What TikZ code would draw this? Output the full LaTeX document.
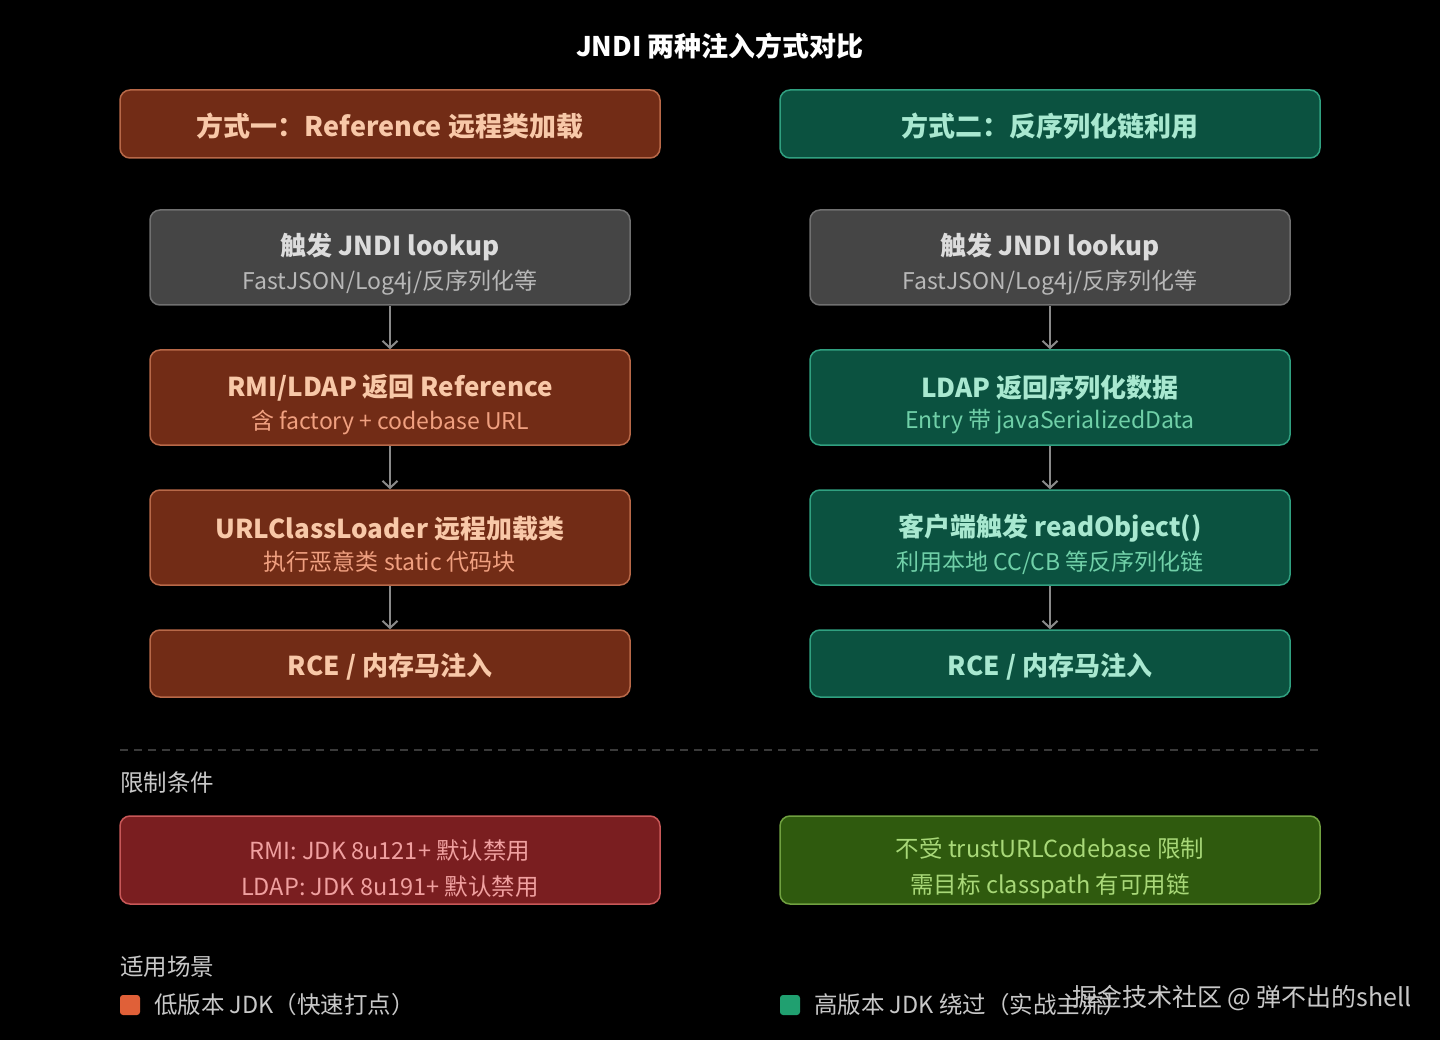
\documentclass[tikz,border=0pt]{standalone}
\usepackage{fontspec}
\setmainfont{Noto Sans CJK SC}
\usepackage{xcolor}
\usepackage{tikz}
\usetikzlibrary{arrows.meta,positioning}
\definecolor{bgBlack}{RGB}{0,0,0}
\definecolor{refFill}{RGB}{114,44,22}
\definecolor{refLine}{RGB}{184,104,72}
\definecolor{refText}{RGB}{248,200,168}
\definecolor{refSub}{RGB}{240,160,128}
\definecolor{serFill}{RGB}{11,82,64}
\definecolor{serLine}{RGB}{48,160,128}
\definecolor{serText}{RGB}{168,232,208}
\definecolor{serSub}{RGB}{112,208,168}
\definecolor{trgFill}{RGB}{69,69,69}
\definecolor{trgLine}{RGB}{112,112,112}
\definecolor{trgText}{RGB}{220,220,220}
\definecolor{trgSub}{RGB}{184,184,184}
\definecolor{limFill}{RGB}{122,30,32}
\definecolor{limLine}{RGB}{200,88,88}
\definecolor{limText}{RGB}{240,160,160}
\definecolor{okFill}{RGB}{47,90,14}
\definecolor{okLine}{RGB}{112,160,64}
\definecolor{okText}{RGB}{168,216,120}
\definecolor{labelGray}{RGB}{200,200,200}
\definecolor{arrowGray}{RGB}{138,138,138}
\definecolor{sepGray}{RGB}{58,58,58}
\definecolor{markOrange}{RGB}{224,96,56}
\definecolor{markGreen}{RGB}{32,160,112}

\newcommand{\boxtwo}[2]{{\fontsize{26}{30}\selectfont\bfseries\rule{0pt}{36pt}#1}\\[8pt]{\fontsize{23}{27}\selectfont #2}}

\begin{document}
\begin{tikzpicture}[x=1pt, y=-1pt,
  card/.style={rounded corners=10pt, line width=1.5pt, minimum width=480pt, minimum height=95pt, align=center, inner sep=0pt},
  headcard/.style={card, minimum width=540pt, minimum height=68pt, font=\fontsize{27}{30}\selectfont\bfseries},
  trigger/.style={card, fill=trgFill, draw=trgLine, text=trgText},
  refstep/.style={card, fill=refFill, draw=refLine, text=refText},
  serstep/.style={card, fill=serFill, draw=serLine, text=serText},
  notecard/.style={card, minimum width=540pt, minimum height=88pt, font=\fontsize{23.5}{36}\selectfont},
  flowarrow/.style={arrowGray, line width=2pt, -{Straight Barb[length=7pt,width=15pt]}},
  section/.style={anchor=west, text=labelGray, font=\fontsize{23.5}{27}\selectfont, inner sep=0pt}
]
\fill[bgBlack] (0,0) rectangle (1440,1040);
\useasboundingbox (0,0) rectangle (1440,1040);

% title
\node[text=white, font=\fontsize{27}{30}\selectfont\bfseries] (title) at (720,46) {JNDI 两种注入方式对比};

% method headers
\node[headcard, fill=refFill, draw=refLine, text=refText] (refhead) at (390,124) {\rule{0pt}{28pt}方式一：Reference 远程类加载};
\node[headcard, fill=serFill, draw=serLine, text=serText] (serhead) at (1050,124) {\rule{0pt}{28pt}方式二：反序列化链利用};

% left chain
\node[trigger] (ref1) at (390,257.5) {\boxtwo{触发 JNDI lookup}{\color{trgSub}FastJSON/Log4j/反序列化等}};
\node[refstep] (ref2) at (390,397.5) {\boxtwo{RMI/LDAP 返回 Reference}{\color{refSub}含 factory + codebase URL}};
\node[refstep] (ref3) at (390,537.5) {\boxtwo{URLClassLoader 远程加载类}{\color{refSub}执行恶意类 static 代码块}};
\node[refstep, minimum height=67pt, font=\fontsize{26}{30}\selectfont\bfseries] (ref4) at (390,663.5) {\rule{0pt}{28pt}RCE / 内存马注入};

% right chain
\node[trigger] (ser1) at (1050,257.5) {\boxtwo{触发 JNDI lookup}{\color{trgSub}FastJSON/Log4j/反序列化等}};
\node[serstep] (ser2) at (1050,397.5) {\boxtwo{LDAP 返回序列化数据}{\color{serSub}Entry 带 javaSerializedData}};
\node[serstep] (ser3) at (1050,537.5) {\boxtwo{客户端触发 readObject()}{\color{serSub}利用本地 CC/CB 等反序列化链}};
\node[serstep, minimum height=67pt, font=\fontsize{26}{30}\selectfont\bfseries] (ser4) at (1050,663.5) {\rule{0pt}{28pt}RCE / 内存马注入};

\foreach \a/\b in {ref1/ref2,ref2/ref3,ref3/ref4,ser1/ser2,ser2/ser3,ser3/ser4}
{
\draw[flowarrow] (\a) -- (\b);
}

% separator
\coordinate (sepL) at (120,750);
\coordinate (sepR) at (1320,750);
\draw[sepGray, line width=1.5pt, dash pattern=on 8pt off 6pt] (sepL) -- (sepR);

% limits
\node[section] (limits) at (120,783) {限制条件};
\node[notecard, fill=limFill, draw=limLine, text=limText] (limref) at (390,860) {\rule{0pt}{36pt}RMI: JDK 8u121+ 默认禁用\\LDAP: JDK 8u191+ 默认禁用};
\node[notecard, fill=okFill, draw=okLine, text=okText] (limser) at (1050,860) {\rule{0pt}{36pt}不受 trustURLCodebase 限制\\需目标 classpath 有可用链};

% usage
\node[section] (usage) at (120,967) {适用场景};
\fill[markOrange, rounded corners=3pt] (120,995) rectangle (140,1015);
\node[section] (useref) at (154,1005) {低版本 JDK（快速打点）};
\fill[markGreen, rounded corners=3pt] (780,995) rectangle (800,1015);
\node[section] (useser) at (814,1005) {高版本 JDK 绕过（实战主流）};

% watermark
\node[anchor=east, text=labelGray, font=\fontsize{25}{28}\selectfont, inner sep=0pt] (mark) at (1412,998) {掘金技术社区 @ 弹不出的shell};
\end{tikzpicture}
\end{document}
